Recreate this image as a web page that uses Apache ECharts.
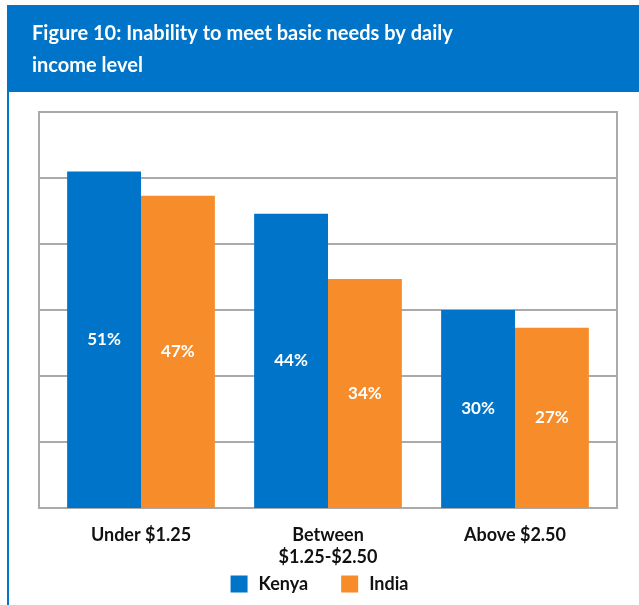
<!DOCTYPE html>
<html>
<head>
<meta charset="utf-8">
<script src="https://cdn.jsdelivr.net/npm/echarts@6/dist/echarts.min.js"></script>
<style>
  html, body { margin: 0; padding: 0; background: #ffffff; }
  #chart { width: 639px; height: 605px; }
</style>
</head>
<body>
<div id="chart"></div>
<script>
  // chart data (bar heights, labels as printed)
  var categories = ['Under $1.25', 'Between\n$1.25-$2.50', 'Above $2.50'];
  var kenya = [51, 44.6, 30];
  var india = [47.3, 34.7, 27.3];

  var BLUE = '#0074c8';
  var ORANGE = '#f68d2a';
  var FONT = 'Lato';

  var chart = echarts.init(document.getElementById('chart'));

  function barSeries(name, data, color) {
    return {
      name: name,
      type: 'bar',
      data: data,
      xAxisIndex: 1,
      yAxisIndex: 1,
      barGap: '0%',
      barCategoryGap: '21%',
      itemStyle: { color: color },
      label: {
        show: true,
        position: 'inside',
        formatter: function (p) { return Math.floor(p.value) + '%'; },
        color: '#ffffff',
        fontFamily: FONT,
        fontWeight: 'bold',
        fontSize: 17
      },
      emphasis: { disabled: true }
    };
  }

  chart.setOption({
    animation: false,
    graphic: [
      // blue banner behind the title
      { type: 'rect', z: -1, shape: { x: 7, y: 5, width: 632, height: 87 }, style: { fill: BLUE } },
      // thin left border
      { type: 'rect', z: -1, shape: { x: 7, y: 92, width: 2, height: 513 }, style: { fill: BLUE } }
    ],
    title: {
      text: 'Figure 10: Inability to meet basic needs by daily\nincome level',
      left: 27,
      top: 13,
      textStyle: {
        color: '#ffffff',
        fontFamily: FONT,
        fontWeight: 'bold',
        fontSize: 20,
        lineHeight: 32
      }
    },
    legend: {
      bottom: 7,
      left: 'center',
      itemWidth: 17,
      itemHeight: 17,
      itemGap: 33,
      icon: 'rect',
      textStyle: {
        color: '#111111',
        fontFamily: FONT,
        fontWeight: 'bold',
        fontSize: 18,
        padding: [0, 0, 0, 6]
      },
      data: ['Kenya', 'India']
    },
    grid: [
      // outer frame with the gridlines
      { left: 39, right: 22, top: 112, bottom: 97, show: true, borderColor: '#aaaaaa', borderWidth: 2 },
      // bars sit a bit inside the frame
      { left: 47.5, right: 30.5, top: 112, bottom: 97 }
    ],
    xAxis: [
      { gridIndex: 0, type: 'category', data: categories, show: false },
      {
        gridIndex: 1,
        type: 'category',
        data: categories,
        axisLine: { show: false },
        axisTick: { show: false },
        axisLabel: {
          margin: 16,
          color: '#111111',
          fontFamily: FONT,
          fontWeight: 'bold',
          fontSize: 18,
          lineHeight: 22
        }
      }
    ],
    yAxis: [
      {
        gridIndex: 0,
        type: 'value',
        min: 0,
        max: 60,
        interval: 10,
        axisLabel: { show: false },
        axisLine: { show: false },
        axisTick: { show: false },
        splitLine: { lineStyle: { color: '#aaaaaa', width: 2 } }
      },
      {
        gridIndex: 1,
        type: 'value',
        min: 0,
        max: 60,
        interval: 10,
        show: false,
        splitLine: { show: false }
      }
    ],
    series: [
      barSeries('Kenya', kenya, BLUE),
      barSeries('India', india, ORANGE)
    ]
  });
</script>
</body>
</html>
